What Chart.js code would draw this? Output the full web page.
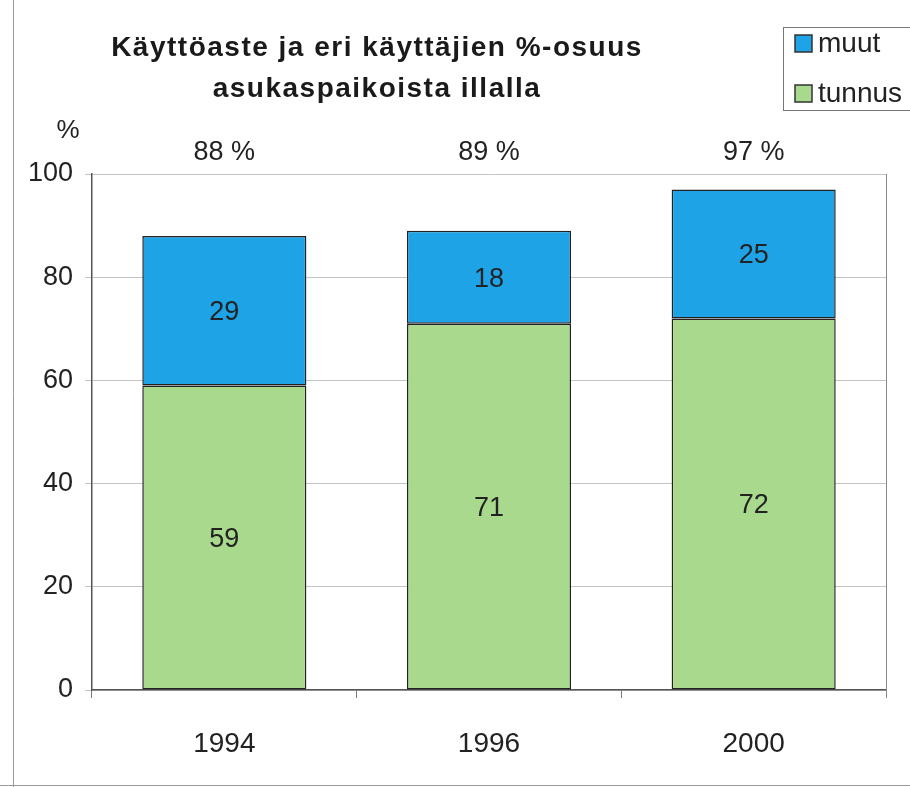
<!DOCTYPE html>
<html>
<head>
<meta charset="utf-8">
<script src="https://cdn.jsdelivr.net/npm/chart.js@4.4.1/dist/chart.umd.min.js"></script>
<style>
  html, body { margin: 0; padding: 0; background: #fff; }
  #wrap { position: relative; width: 910px; height: 787px; }
</style>
</head>
<body>
<div id="wrap"><canvas id="c" width="910" height="787"></canvas></div>
<script>
// data
const years = ['1994', '1996', '2000'];
const tunnus = [59, 71, 72];
const muut = [29, 18, 25];
const totalLabels = ['88 %', '89 %', '97 %'];
const yTicks = [0, 20, 40, 60, 80, 100];

const BLUE = '#1ea4e6';
const GREEN = '#a9d98c';
const FONT = '"Liberation Sans", Arial, sans-serif';

// extra drawing: frame, title, legend, value labels
const extras = {
  id: 'extras',
  afterDraw(chart) {
    const ctx = chart.ctx;
    const a = chart.chartArea;
    const x = chart.scales.x;
    ctx.save();

    // page frame
    ctx.strokeStyle = '#9a9a9a';
    ctx.lineWidth = 1;
    ctx.beginPath();
    ctx.moveTo(13.5, 0); ctx.lineTo(13.5, 787);
    ctx.moveTo(0, 785.5); ctx.lineTo(910, 785.5);
    ctx.stroke();

    // right border of plot
    ctx.strokeStyle = '#888';
    ctx.beginPath();
    ctx.moveTo(a.right + 0.5, a.top); ctx.lineTo(a.right + 0.5, a.bottom + 8);
    ctx.stroke();

    // title
    ctx.fillStyle = '#1a1a1a';
    ctx.font = 'bold 28px ' + FONT;
    ctx.textAlign = 'center';
    ctx.textBaseline = 'middle';
    ctx.letterSpacing = '1.5px';
    ctx.fillText('Käyttöaste ja eri käyttäjien %-osuus', 377, 48);
    ctx.fillText('asukaspaikoista illalla', 377, 89);
    ctx.letterSpacing = '0px';

    // y unit
    ctx.font = '26px ' + FONT;
    ctx.fillStyle = '#222';
    ctx.fillText('%', 68, 131);

    // totals above bars
    ctx.font = '27px ' + FONT;
    years.forEach((yr, i) => {
      ctx.fillText(totalLabels[i], x.getPixelForValue(i), 153);
    });

    // values inside segments
    chart.data.datasets.forEach((ds, di) => {
      const meta = chart.getDatasetMeta(di);
      meta.data.forEach((bar, i) => {
        const yc = (bar.y + bar.base) / 2;
        ctx.fillText(String(ds.data[i]), bar.x, yc + 2);
      });
    });

    // legend box
    ctx.strokeStyle = '#777';
    ctx.lineWidth = 1;
    ctx.strokeRect(783.5, 27.5, 130, 83);
    const items = [{ label: 'muut', color: BLUE, cy: 43 }, { label: 'tunnus', color: GREEN, cy: 93 }];
    ctx.textAlign = 'left';
    ctx.font = '28px ' + FONT;
    items.forEach(it => {
      ctx.fillStyle = it.color;
      ctx.fillRect(795, it.cy - 8, 17, 17);
      ctx.strokeStyle = '#333';
      ctx.lineWidth = 1.5;
      ctx.strokeRect(795, it.cy - 8, 17, 17);
      ctx.fillStyle = '#222';
      ctx.fillText(it.label, 818, it.cy + 1);
    });

    ctx.restore();
  }
};

new Chart(document.getElementById('c'), {
  type: 'bar',
  data: {
    labels: years,
    datasets: [
      {
        label: 'tunnus',
        data: tunnus,
        backgroundColor: GREEN,
        borderColor: '#222',
        borderWidth: 1.5,
        borderSkipped: false,
        barPercentage: 0.62,
        categoryPercentage: 1.0
      },
      {
        label: 'muut',
        data: muut,
        backgroundColor: BLUE,
        borderColor: '#222',
        borderWidth: 1.5,
        borderSkipped: false,
        barPercentage: 0.62,
        categoryPercentage: 1.0
      }
    ]
  },
  options: {
    responsive: false,
    animation: false,
    devicePixelRatio: 1,
    layout: { padding: { left: 0, right: 24, top: 174, bottom: 0 } },
    plugins: {
      legend: { display: false },
      tooltip: { enabled: false },
      title: { display: false }
    },
    scales: {
      x: {
        stacked: true,
        afterFit: s => { s.height = 787 - 690; },
        grid: { display: true, drawOnChartArea: false, offset: true, tickLength: 8, color: '#777' },
        border: { display: true, color: '#555', width: 1.5 },
        ticks: { color: '#222', font: { family: FONT, size: 28 }, padding: 29 }
      },
      y: {
        stacked: true,
        min: 0,
        max: 100,
        afterFit: s => { s.width = 92; },
        afterBuildTicks: s => { s.ticks = yTicks.map(v => ({ value: v })); },
        grid: { color: '#c4c4c4', tickLength: 7, lineWidth: 1 },
        border: { display: true, color: '#555', width: 1.5 },
        ticks: { color: '#222', font: { family: FONT, size: 27 }, padding: 12 }
      }
    }
  },
  plugins: [extras]
});
</script>
</body>
</html>
